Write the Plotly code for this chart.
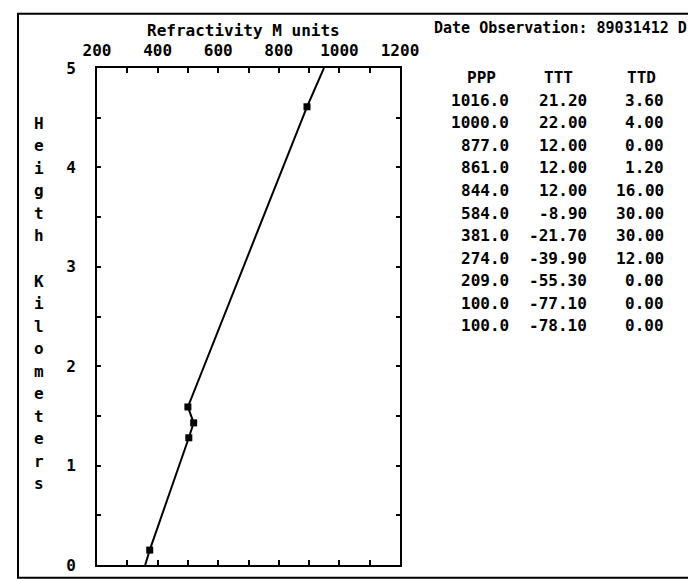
import plotly.graph_objects as go

# ---- data ----
refractivity_pts = [374, 503, 519, 500, 893]          # M units at measured points
height_pts = [0.15, 1.28, 1.43, 1.59, 4.61]           # km
refractivity_line = [359, 374, 503, 519, 500, 893, 949]
height_line = [0.0, 0.15, 1.28, 1.43, 1.59, 4.61, 5.0]

x_tickvals = [200, 300, 400, 500, 600, 700, 800, 900, 1000, 1100, 1200]
x_ticktext = ["200", "", "400", "", "600", "", "800", "", "1000", "", "1200"]
y_tickvals = [0, 0.5, 1, 1.5, 2, 2.5, 3, 3.5, 4, 4.5, 5]
y_ticktext = ["0", "", "1", "", "2", "", "3", "", "4", "", "5"]

PPP = [1016.0, 1000.0, 877.0, 861.0, 844.0, 584.0, 381.0, 274.0, 209.0, 100.0, 100.0]
TTT = [21.20, 22.00, 12.00, 12.00, 12.00, -8.90, -21.70, -39.90, -55.30, -77.10, -78.10]
TTD = [3.60, 4.00, 0.00, 1.20, 16.00, 30.00, 30.00, 12.00, 0.00, 0.00, 0.00]
table_headers = ["PPP", "TTT", "TTD"]

x_title = "Refractivity M units"
y_title = "Heigth Kilometers"
obs_title = "Date Observation: 89031412 D"

# ---- layout geometry (pixels) ----
W, H = 696, 579
L, R, T, B = 89, 392, 60, 563

def px(x):
    return (x - L) / (R - L)

def py(y):
    return (B - y) / (B - T)

FONT = "DejaVu Sans Mono"
fnt = dict(family=FONT, size=16, color="black", weight="bold")
fnt_obs = dict(family=FONT, size=15, color="black", weight="bold")

fig = go.Figure()
fig.add_trace(go.Scatter(x=refractivity_line, y=height_line, mode="lines",
                         line=dict(color="black", width=2), hoverinfo="skip",
                         showlegend=False))
fig.add_trace(go.Scatter(x=refractivity_pts, y=height_pts, mode="markers",
                         marker=dict(color="black", size=7, symbol="square"),
                         showlegend=False))

annotations = []
annotations.append(dict(text=x_title, x=px(235), y=py(22), xref="paper", yref="paper",
                        xanchor="center", yanchor="middle", showarrow=False, font=fnt))
annotations.append(dict(text=obs_title, x=px(424), y=py(20), xref="paper", yref="paper",
                        xanchor="left", yanchor="middle", showarrow=False, font=fnt_obs))

# vertical y title letters
top_y, step_y = 116, 22.8
for i, ch in enumerate(y_title):
    if ch == " ":
        continue
    annotations.append(dict(text=ch, x=px(31), y=py(top_y + i * step_y), xref="paper",
                            yref="paper", xanchor="center", yanchor="middle",
                            showarrow=False, font=fnt))

# table
col_right = [503, 581, 658]
head_right = [490, 567, 650]
head_y, row_step = 70, 22.8
for j, h in enumerate(table_headers):
    annotations.append(dict(text=h, x=px(head_right[j]), y=py(head_y), xref="paper",
                            yref="paper", xanchor="right", yanchor="middle",
                            showarrow=False, font=fnt))
for i in range(len(PPP)):
    vals = [f"{PPP[i]:.1f}", f"{TTT[i]:.2f}", f"{TTD[i]:.2f}"]
    for j, v in enumerate(vals):
        annotations.append(dict(text=v, x=px(col_right[j]), y=py(head_y + (i + 1) * row_step),
                                xref="paper", yref="paper", xanchor="right",
                                yanchor="middle", showarrow=False, font=fnt))

shapes = [dict(type="rect", xref="paper", yref="paper", x0=px(10), x1=px(705),
               y0=py(576), y1=py(5), line=dict(color="black", width=2))]

fig.update_layout(
    width=W, height=H,
    margin=dict(l=L, r=W - R, t=T, b=H - B, pad=0),
    paper_bgcolor="white", plot_bgcolor="white",
    font=fnt,
    annotations=annotations,
    shapes=shapes,
    showlegend=False,
)
fig.update_xaxes(range=[200, 1200], side="top", tickvals=x_tickvals, ticktext=x_ticktext,
                 ticks="inside", ticklen=5, tickwidth=1.5, tickcolor="black",
                 showline=True, linewidth=2, linecolor="black", mirror="ticks",
                 showgrid=False, zeroline=False, tickfont=fnt, ticklabelstandoff=4)
fig.update_yaxes(range=[0, 5], tickvals=y_tickvals, ticktext=y_ticktext,
                 ticks="inside", ticklen=4, tickwidth=1.5, tickcolor="black",
                 showline=True, linewidth=2, linecolor="black", mirror="ticks",
                 showgrid=False, zeroline=False, tickfont=fnt, ticklabelstandoff=16)

fig.write_html("out.html")
